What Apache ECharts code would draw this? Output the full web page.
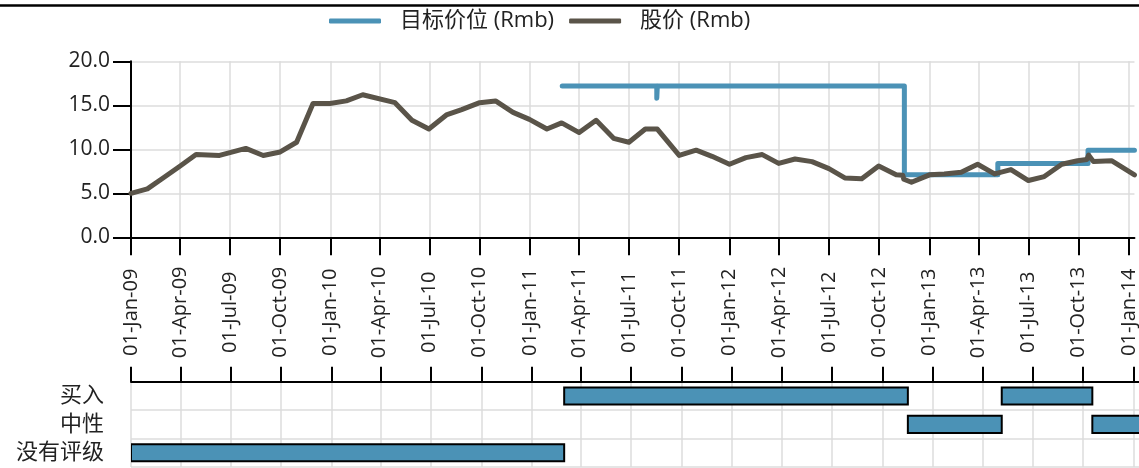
<!DOCTYPE html>
<html><head><meta charset="utf-8">
<script src="https://cdn.jsdelivr.net/npm/echarts@6/dist/echarts.min.js"></script>
<style>html,body{margin:0;padding:0;background:#fff}#c{width:1139px;height:468px}</style>
</head><body><div id="c"></div>
<script>
const priceDates = ['2009-01-01','2009-01-31','2009-03-02','2009-04-01','2009-04-30','2009-06-12','2009-07-30','2009-08-31','2009-10-01','2009-10-31','2009-11-30','2009-12-31','2010-01-30','2010-03-01','2010-04-29','2010-05-30','2010-06-30','2010-08-01','2010-08-29','2010-10-01','2010-10-30','2010-12-01','2010-12-31','2011-02-01','2011-02-28','2011-04-01','2011-05-02','2011-06-03','2011-07-01','2011-07-31','2011-08-22','2011-10-01','2011-11-01','2011-11-30','2012-01-01','2012-01-31','2012-03-01','2012-03-31','2012-04-30','2012-05-31','2012-07-01','2012-07-30','2012-08-30','2012-09-30','2012-11-01','2012-11-13','2012-11-15','2012-11-29','2013-01-01','2013-01-28','2013-02-28','2013-03-30','2013-04-30','2013-05-30','2013-07-01','2013-07-30','2013-08-31','2013-09-29','2013-10-16','2013-10-19','2013-10-28','2013-11-30','2014-01-11'];
const priceValues = [5.0,5.5,6.8,8.1,9.4,9.3,10.1,9.3,9.7,10.8,15.2,15.2,15.5,16.2,15.3,13.3,12.3,13.9,14.5,15.3,15.5,14.2,13.4,12.3,13.0,11.9,13.3,11.25,10.8,12.3,12.3,9.3,9.9,9.2,8.3,9.05,9.4,8.4,8.9,8.6,7.8,6.75,6.65,8.1,7.1,7.05,6.6,6.25,7.1,7.2,7.4,8.3,7.2,7.7,6.45,6.9,8.3,8.7,8.85,9.35,8.6,8.7,7.1];
const targetDates = ['2011-03-01','2011-08-21','2011-08-22','2012-11-16','2013-05-06','2013-10-18','2014-01-11'];
const targetValues = [17.2,15.8,17.2,7.1,8.4,9.9,9.9];
const ratingCategories = ['买入','中性','没有评级'];
const ratingStarts = ['2009-01-01','2011-03-01','2012-11-16','2013-05-06','2013-10-18'];
const ratingEnds = ['2011-03-01','2012-11-16','2013-05-06','2013-10-18','2014-03-01'];
const ratingNames = ['没有评级','买入','中性','买入','中性'];
const tickDates = ['2009-01-01','2009-04-01','2009-07-01','2009-10-01','2010-01-01','2010-04-01','2010-07-01','2010-10-01','2011-01-01','2011-04-01','2011-07-01','2011-10-01','2012-01-01','2012-04-01','2012-07-01','2012-10-01','2013-01-01','2013-04-01','2013-07-01','2013-10-01','2014-01-01'];
const monthNames = ['Jan','Feb','Mar','Apr','May','Jun','Jul','Aug','Sep','Oct','Nov','Dec'];
const seriesNames = ['目标价位 (Rmb)','股价 (Rmb)'];

const FONT = "'Open Sans', 'Noto Sans CJK SC', sans-serif";
const BLUE = '#4b92b6', DARK = '#5a5449', GRID = '#dcdcdc', TXT = '#222';
const ts = s => Date.parse(s + 'T00:00:00Z');
const X_MIN = ts('2009-01-01'), X_MAX = ts('2014-01-11');
const tickTs = tickDates.map(ts);

function fmtDate(v) {
  const d = new Date(v);
  const dd = String(d.getUTCDate()).padStart(2, '0');
  return dd + '-' + monthNames[d.getUTCMonth()] + '-' + String(d.getUTCFullYear()).slice(2);
}

const chart = echarts.init(document.getElementById('c'));
chart.setOption({
  animation: false,
  textStyle: { fontFamily: FONT },
  graphic: [{ type: 'line', shape: { x1: 0, y1: 5.5, x2: 1139, y2: 5.5 }, style: { stroke: '#000', lineWidth: 2.5 } }],
  legend: {
    data: seriesNames, top: 5, left: 324, itemWidth: 52, itemHeight: 5, itemGap: 15, icon: 'roundRect',
    textStyle: { fontSize: 22, color: TXT, fontFamily: FONT, padding: [0, 0, 0, 14] }
  },
  grid: [
    { left: 131, right: 0, top: 61.3, height: 176 },
    { left: 131, right: 0, top: 381.7, height: 85.3 }
  ],
  xAxis: [
    {
      type: 'value', gridIndex: 0, min: X_MIN, max: X_MAX, position: 'bottom',
      axisLine: { show: true, lineStyle: { color: '#000', width: 2 } },
      axisTick: { show: true, length: 18, lineStyle: { color: '#000', width: 2 }, customValues: tickTs },
      axisLabel: { customValues: tickTs, formatter: fmtDate, rotate: 90, margin: 75, align: 'center', verticalAlign: 'middle', fontSize: 20, color: TXT, fontFamily: FONT, hideOverlap: false },
      splitLine: { show: true, lineStyle: { color: GRID, width: 1.5 } }
    },
    {
      type: 'value', gridIndex: 1, min: X_MIN, max: X_MAX, position: 'top',
      axisLine: { show: true, lineStyle: { color: '#000', width: 2 } },
      axisTick: { show: true, length: 15, lineStyle: { color: '#000', width: 2 }, customValues: tickTs },
      axisLabel: { show: false, customValues: tickTs },
      splitLine: { show: true, lineStyle: { color: GRID, width: 1.5 } }
    }
  ],
  yAxis: [
    {
      type: 'value', gridIndex: 0, min: 0, max: 20, interval: 5,
      axisLine: { show: true, lineStyle: { color: '#000', width: 2 } },
      axisTick: { show: true, length: 18, lineStyle: { color: '#000', width: 2 } },
      axisLabel: { formatter: v => v.toFixed(1), margin: 21, fontSize: 21, color: TXT, fontFamily: FONT },
      splitLine: { show: true, lineStyle: { color: GRID, width: 1.5 } }
    },
    {
      type: 'category', gridIndex: 1, data: ratingCategories, inverse: true, boundaryGap: true,
      axisLine: { show: false }, axisTick: { show: false },
      axisLabel: { interval: 0, margin: 27, fontSize: 22, color: TXT, fontFamily: FONT },
      splitLine: { show: true, interval: 0, lineStyle: { color: GRID, width: 1.5 } }
    }
  ],
  series: [
    {
      name: seriesNames[0], type: 'line', xAxisIndex: 0, yAxisIndex: 0, step: 'end', symbol: 'none', clip: true,
      data: targetDates.map((d, i) => [ts(d), targetValues[i]]),
      lineStyle: { color: BLUE, width: 5, cap: 'round', join: 'round' }, itemStyle: { color: BLUE }
    },
    {
      name: seriesNames[1], type: 'line', xAxisIndex: 0, yAxisIndex: 0, symbol: 'none', clip: true,
      data: priceDates.map((d, i) => [ts(d), priceValues[i]]),
      lineStyle: { color: DARK, width: 5, cap: 'round', join: 'round' }, itemStyle: { color: DARK }
    },
    {
      type: 'custom', xAxisIndex: 1, yAxisIndex: 1, clip: true,
      data: ratingStarts.map((s, i) => [ts(s), ts(ratingEnds[i]), ratingCategories.indexOf(ratingNames[i])]),
      encode: { x: [0, 1], y: 2 },
      renderItem: function (params, api) {
        const a = api.coord([api.value(0), api.value(2)]);
        const b = api.coord([api.value(1), api.value(2)]);
        const h = api.size([0, 1])[1] * 0.6;
        return {
          type: 'rect',
          shape: { x: a[0], y: a[1] - h / 2, width: b[0] - a[0], height: h },
          style: { fill: BLUE, stroke: '#000', lineWidth: 2 }
        };
      }
    }
  ]
});
</script>
</body></html>
